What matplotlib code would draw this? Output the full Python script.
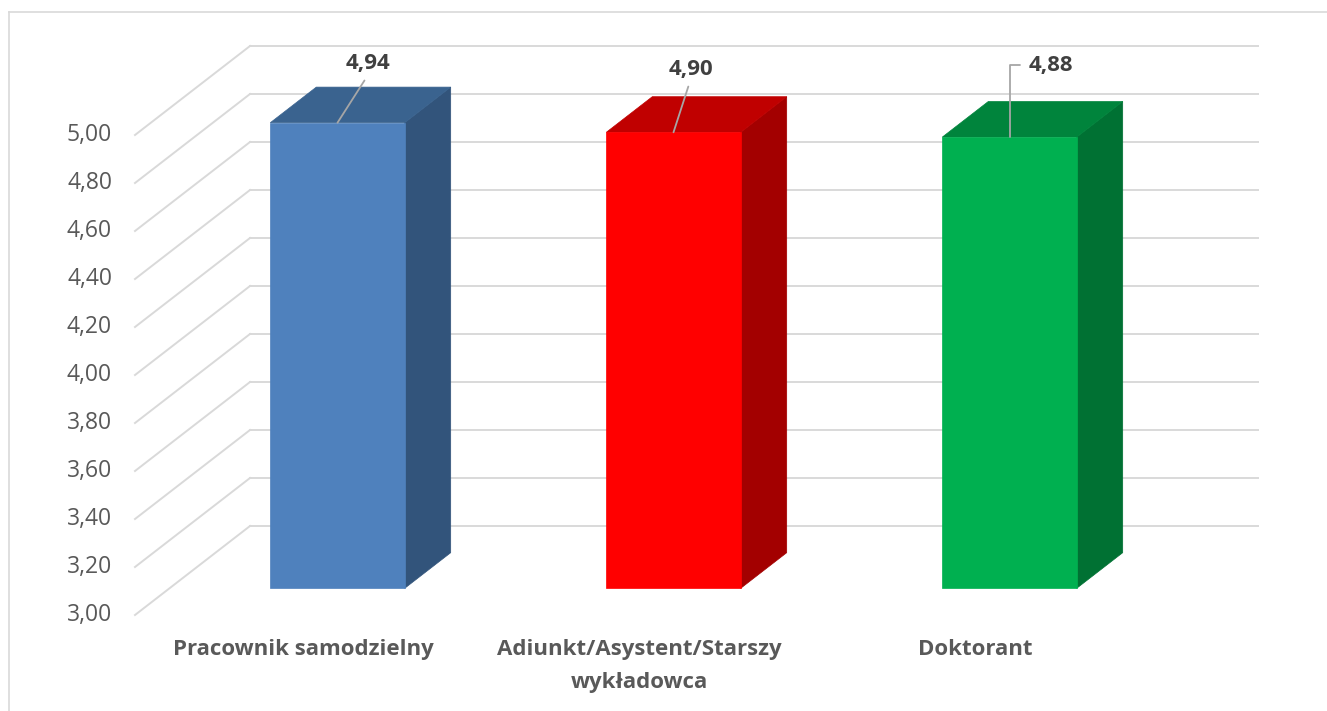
import matplotlib
matplotlib.use("Agg")
import matplotlib.pyplot as plt
from matplotlib.patches import Polygon
from matplotlib.lines import Line2D

# --- data ---------------------------------------------------------------
categories = ["Pracownik samodzielny", "Adiunkt/Asystent/Starszy\nwykładowca", "Doktorant"]
values = [4.94, 4.90, 4.88]
value_labels = ["4,94", "4,90", "4,88"]
y_ticks = [3.00, 3.20, 3.40, 3.60, 3.80, 4.00, 4.20, 4.40, 4.60, 4.80, 5.00]
y_tick_labels = ["3,00", "3,20", "3,40", "3,60", "3,80", "4,00", "4,20", "4,40", "4,60", "4,80", "5,00"]
front_colors = ["#4F81BD", "#FF0000", "#00B050"]
top_colors = ["#3A638F", "#C00000", "#00843C"]
side_colors = ["#32547B", "#A30000", "#007133"]

# --- figure / oblique projection setup ------------------------------------
W, H, DPI = 1327, 711, 100
fig = plt.figure(figsize=(W / DPI, H / DPI), dpi=DPI)
fig.patch.set_facecolor("white")
ax = fig.add_axes([0, 0, 1, 1])
ax.set_axis_off()

x0_px, cat_px = 135.0, 336.0           # front-plane origin and category width
y0_px, unit_px = 615.0, 240.0          # front-plane baseline and pixels per unit
ymin = 3.0
ax.set_xlim(-x0_px / cat_px, (W - x0_px) / cat_px)
ax.set_ylim(ymin - (H - y0_px) / unit_px, ymin + y0_px / unit_px)

# full depth of the box in data units (x shift, y shift)
DX = 115.0 / cat_px
DY = 89.0 / unit_px
n = len(categories)
depth_front, depth_back = 0.3, 0.7     # bar position inside the depth
bar_half = 0.2                         # half bar width in category units

grid_c = "#D9D9D9"
text_c = "#595959"

# gridlines: diagonal on the side wall + horizontal on the back wall
for v in y_ticks:
    ax.add_line(Line2D([0, DX], [v, v + DY], color=grid_c, lw=1.4, zorder=1))
    ax.add_line(Line2D([DX, n + DX], [v + DY, v + DY], color=grid_c, lw=1.4, zorder=1))

# y tick labels along the front edge
for v, lab in zip(y_ticks, y_tick_labels):
    ax.annotate(lab, xy=(0, v), xytext=(-23, 0), textcoords="offset pixels",
                ha="right", va="center", fontsize=16.5, color=text_c,
                family="Open Sans")

# 3-D style bars
for i, (val, fc, tc, sc) in enumerate(zip(values, front_colors, top_colors, side_colors)):
    cx = i + 0.5
    fx, fy = depth_front * DX, depth_front * DY
    bx, by = depth_back * DX, depth_back * DY
    xl, xr = cx - bar_half + fx, cx + bar_half + fx
    yb, yt = ymin + fy, val + fy
    ddx, ddy = bx - fx, by - fy
    side = Polygon([(xr, yb), (xr, yt), (xr + ddx, yt + ddy), (xr + ddx, yb + ddy)],
                   closed=True, facecolor=sc, edgecolor=sc, lw=0.5, zorder=3)
    top = Polygon([(xl, yt), (xr, yt), (xr + ddx, yt + ddy), (xl + ddx, yt + ddy)],
                  closed=True, facecolor=tc, edgecolor=tc, lw=0.5, zorder=3)
    front = Polygon([(xl, yb), (xr, yb), (xr, yt), (xl, yt)],
                    closed=True, facecolor=fc, edgecolor=fc, lw=0.5, zorder=4)
    for p in (side, top, front):
        ax.add_patch(p)

# value labels with leader lines to the bar tops
label_offsets = [(31, 59), (17, 63), (19, 72)]
label_align = ["center", "center", "left"]
for i, (val, lab) in enumerate(zip(values, value_labels)):
    cx = i + 0.5 + depth_front * DX
    top_y = val + depth_front * DY
    ox, oy = label_offsets[i]
    if label_align[i] == "left":
        arrow = dict(arrowstyle="-", color="#A6A6A6", lw=1.3,
                     connectionstyle="angle,angleA=0,angleB=90,rad=0",
                     relpos=(0, 0.5), shrinkA=4, shrinkB=0)
    else:
        arrow = dict(arrowstyle="-", color="#A6A6A6", lw=1.3,
                     relpos=(0.5, 0), shrinkA=3, shrinkB=0)
    ax.annotate(lab, xy=(cx, top_y), xytext=(ox, oy), textcoords="offset pixels",
                ha=label_align[i], va="center", fontsize=16, fontweight="bold",
                color="#404040", family="Open Sans", arrowprops=arrow, zorder=6)

# category labels under the front edge
for i, cat in enumerate(categories):
    ax.annotate(cat, xy=(i + 0.5, ymin), xytext=(0, -24), textcoords="offset pixels",
                ha="center", va="top", fontsize=16, fontweight="bold",
                color=text_c, family="Open Sans", linespacing=1.78)

# chart-area border (open to the right and bottom)
fig.add_artist(Line2D([9 / W, 1], [1 - 12 / H, 1 - 12 / H], color=grid_c, lw=1.2,
                      transform=fig.transFigure))
fig.add_artist(Line2D([9 / W, 9 / W], [0, 1 - 12 / H], color=grid_c, lw=1.2,
                      transform=fig.transFigure))

fig.savefig("out.png", dpi=DPI, facecolor="white")
